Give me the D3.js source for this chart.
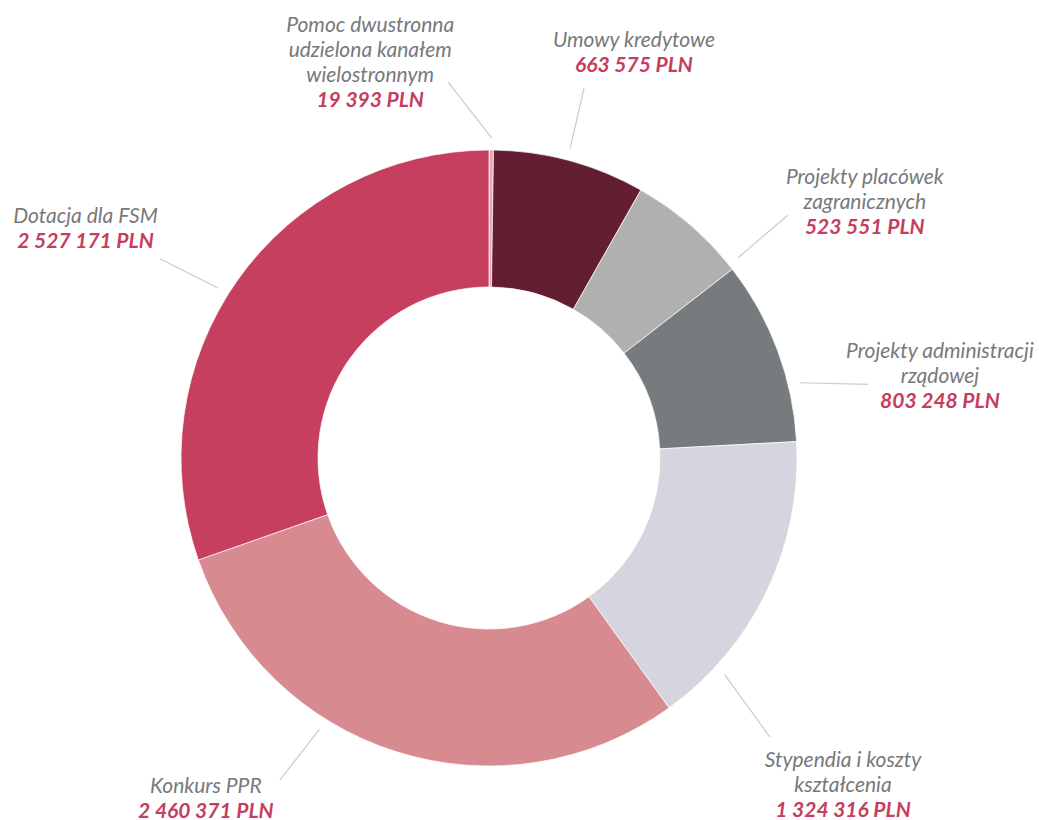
<!DOCTYPE html>
<html>
<head>
<meta charset="utf-8">
<script src="https://cdn.jsdelivr.net/npm/d3@7"></script>
<style>
  body { margin: 0; background: #fff; }
  .lbl { font-family: Lato, "Open Sans", sans-serif; font-style: italic; font-size: 21px; fill: #77797b; }
  .val { font-family: Lato, "Open Sans", sans-serif; font-style: italic; font-weight: 700; font-size: 21px; fill: #c63d5e; }
</style>
</head>
<body>
<div id="chart"></div>
<script>
// Data (PLN), clockwise from 12 o'clock
var categories = [
  ["Pomoc dwustronna", "udzielona kanałem", "wielostronnym"],
  ["Umowy kredytowe"],
  ["Projekty placówek", "zagranicznych"],
  ["Projekty administracji", "rządowej"],
  ["Stypendia i koszty", "kształcenia"],
  ["Konkurs PPR"],
  ["Dotacja dla FSM"]
];
var values = [19393, 663575, 523551, 803248, 1324316, 2460371, 2527171];
var colors = ["#e9a6b5", "#631f31", "#b0b0ae", "#767b7d", "#d5d5df", "#d88a91", "#c73f5e"];

// where each leader line sits (degrees clockwise from top) and where its text goes
var leader = [
  {a0: 0.5,   a1: -6.2,  r2: 378, dx: -78, dy: -50},
  {a0: 14.7,  a1: 14.4,  r2: 382, dx: 50,  dy: -41},
  {a0: 51.2,  a1: 50.9,  r2: 385, dx: 77,  dy: -31},
  {a0: 76.4,  a1: 79,    r2: 386, dx: 72,  dy: -26},
  {a0: 132.6, a1: 134.8, r2: 396, dx: 73,  dy: 30},
  {a0: 212,   a1: 213,   r2: 384, dx: -74, dy: 13},
  {a0: 302.1, a1: 301.2, r2: 384, dx: -75, dy: -36}
];

var width = 1039, height = 820;
var cx = 489, cy = 458;
var outer = 308, inner = 171;
var lineH = 25;

var pln = d3.formatLocale({decimal: ",", thousands: " ", grouping: [3], currency: ["", ""]}).format(",");

var data = values.map(function(v, i) {
  return {value: v, name: categories[i], color: colors[i], lay: leader[i]};
});

var svg = d3.select("#chart").append("svg")
  .attr("width", width)
  .attr("height", height);

var g = svg.append("g").attr("transform", "translate(" + cx + "," + cy + ")");

var pie = d3.pie().sort(null).value(function(d) { return d.value; });
var arc = d3.arc().innerRadius(inner).outerRadius(outer);

g.selectAll("path.slice")
  .data(pie(data))
  .enter().append("path")
  .attr("class", "slice")
  .attr("d", arc)
  .attr("fill", function(d) { return d.data.color; })
  .attr("stroke", "#fff")
  .attr("stroke-width", 0.7);

var rad = Math.PI / 180;

// leader lines
g.selectAll("line.lead")
  .data(data)
  .enter().append("line")
  .attr("class", "lead")
  .attr("x1", function(d) { return d3.pointRadial(d.lay.a0 * rad, 320)[0]; })
  .attr("y1", function(d) { return d3.pointRadial(d.lay.a0 * rad, 320)[1]; })
  .attr("x2", function(d) { return d3.pointRadial(d.lay.a1 * rad, d.lay.r2)[0]; })
  .attr("y2", function(d) { return d3.pointRadial(d.lay.a1 * rad, d.lay.r2)[1]; })
  .attr("stroke", "#c9c9da")
  .attr("stroke-width", 1.2);

// labels
var lab = g.selectAll("text.lab")
  .data(data)
  .enter().append("text")
  .attr("class", "lab")
  .attr("text-anchor", "middle")
  .attr("transform", function(d) {
    var p = d3.pointRadial(d.lay.a1 * rad, d.lay.r2);
    return "translate(" + (p[0] + d.lay.dx) + "," + (p[1] + d.lay.dy) + ")";
  });

lab.each(function(d) {
  var t = d3.select(this);
  d.name.forEach(function(s, i) {
    t.append("tspan").attr("class", "lbl").attr("x", 0).attr("y", i * lineH).text(s);
  });
  t.append("tspan").attr("class", "val").attr("x", 0).attr("y", d.name.length * lineH)
    .text(pln(d.value) + " PLN");
});
</script>
</body>
</html>
